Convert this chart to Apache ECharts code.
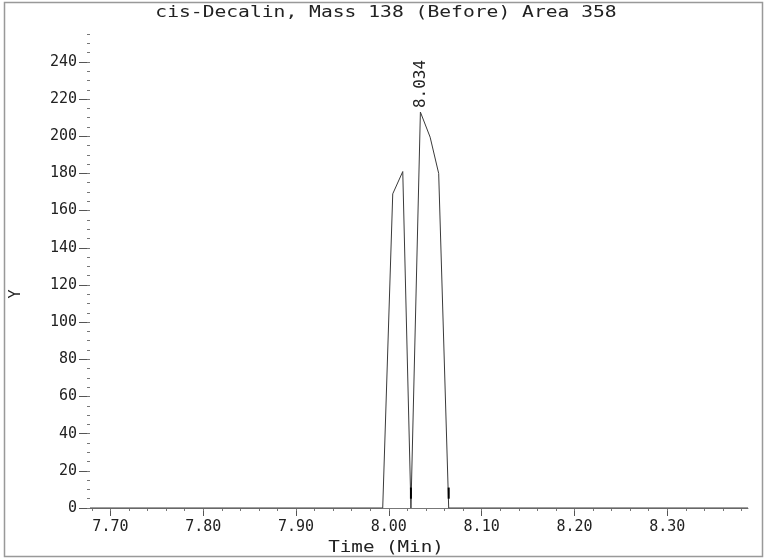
<!DOCTYPE html>
<html>
<head>
<meta charset="utf-8">
<script src="https://cdn.jsdelivr.net/npm/echarts@6/dist/echarts.min.js"></script>
<style>
html,body{margin:0;padding:0;background:#fff;}
#chart{width:764px;height:559px;}
</style>
</head>
<body>
<div id="chart"></div>
<script>
// ---- data ----
const titleText = 'cis-Decalin, Mass 138 (Before) Area 358';
const xAxisName = 'Time (Min)';
const yAxisName = 'Y';
const times = [7.678, 7.9934, 8.0042, 8.0150, 8.0238, 8.0340, 8.0445, 8.0537, 8.0645, 8.387];
const values = [0, 0, 169, 181, 0, 213, 199.5, 180, 0, 0];
const peakTime = 8.034;
const peakValue = 213;
const peakLabel = '8.034';
const markerTimes = [8.0238, 8.0645];
const markerRange = [5, 11];
const xTicks = [7.70, 7.80, 7.90, 8.00, 8.10, 8.20, 8.30];
const yTicks = [0, 20, 40, 60, 80, 100, 120, 140, 160, 180, 200, 220, 240];
const xMin = 7.678, xMax = 8.387, yMin = 0, yMax = 255;

// minor tick positions
const xMinor = [];
for (let i = 0; i <= 35; i++) xMinor.push(+(7.68 + i * 0.02).toFixed(2));
const yMinor = [];
for (let v = 0; v <= 255; v += 5) yMinor.push(v);

const FONT = 'DejaVu Sans Mono';
const TXT = '#222';
const chart = echarts.init(document.getElementById('chart'), null, {renderer: 'canvas'});

const series = [{
  type: 'line',
  data: times.map((t, i) => [t, values[i]]),
  symbol: 'none',
  lineStyle: {color: '#3a3a3a', width: 1},
  animation: false,
  markPoint: {
    symbol: 'rect',
    symbolSize: [1, 1],
    symbolOffset: [0, -4],
    itemStyle: {color: 'rgba(0,0,0,0)'},
    label: {
      show: true,
      formatter: peakLabel,
      rotate: 90,
      position: 'inside',
      align: 'left',
      verticalAlign: 'middle',
      fontFamily: FONT,
      fontSize: 16,
      color: TXT
    },
    data: [{coord: [peakTime, peakValue]}]
  }
}];
markerTimes.forEach(t => {
  series.push({
    type: 'line',
    data: [[t, markerRange[0]], [t, markerRange[1]]],
    symbol: 'none',
    lineStyle: {color: '#000', width: 2},
    animation: false,
    silent: true
  });
});

const option = {
  animation: false,
  backgroundColor: '#fff',
  grid: {left: 90, right: 16, top: 34, bottom: 51, containLabel: false},
  xAxis: [{
    type: 'value', min: xMin, max: xMax, position: 'bottom',
    axisLine: {show: true, onZero: false, lineStyle: {color: '#777', width: 1}},
    axisTick: {show: true, length: 8, customValues: xTicks, lineStyle: {color: '#555'}},
    axisLabel: {show: true, customValues: xTicks, margin: 12,
      formatter: v => v.toFixed(2), fontFamily: FONT, fontSize: 15, color: TXT},
    splitLine: {show: false}
  }, {
    type: 'value', min: xMin, max: xMax, position: 'bottom',
    axisLine: {show: false},
    axisTick: {show: true, length: 3, customValues: xMinor, lineStyle: {color: '#777'}},
    axisLabel: {show: false},
    splitLine: {show: false}
  }],
  yAxis: [{
    type: 'value', min: yMin, max: yMax, position: 'left',
    axisLine: {show: false},
    axisTick: {show: true, length: 11, customValues: yTicks, lineStyle: {color: '#555'}},
    axisLabel: {show: true, customValues: yTicks, margin: 13,
      fontFamily: FONT, fontSize: 15, color: TXT},
    splitLine: {show: false}
  }, {
    type: 'value', min: yMin, max: yMax, position: 'left',
    axisLine: {show: false},
    axisTick: {show: true, length: 3, customValues: yMinor, lineStyle: {color: '#777'}},
    axisLabel: {show: false},
    splitLine: {show: false}
  }],
  series: series,
  graphic: [{
    type: 'rect',
    shape: {x: 4.5, y: 2.5, width: 758, height: 554},
    style: {fill: 'none', stroke: '#999', lineWidth: 1.5},
    silent: true, z: -1
  }, {
    type: 'text',
    x: 386, y: 13, scaleX: 1.31,
    style: {text: titleText, fontFamily: FONT, fontSize: 15, fill: TXT,
      align: 'center', verticalAlign: 'middle'}
  }, {
    type: 'text',
    x: 386, y: 548, scaleX: 1.28,
    style: {text: xAxisName, fontFamily: FONT, fontSize: 15, fill: TXT,
      align: 'center', verticalAlign: 'middle'}
  }, {
    type: 'text',
    x: 16, y: 294, rotation: Math.PI / 2,
    style: {text: yAxisName, fontFamily: FONT, fontSize: 15, fill: TXT,
      align: 'center', verticalAlign: 'middle'}
  }]
};
chart.setOption(option);
</script>
</body>
</html>
